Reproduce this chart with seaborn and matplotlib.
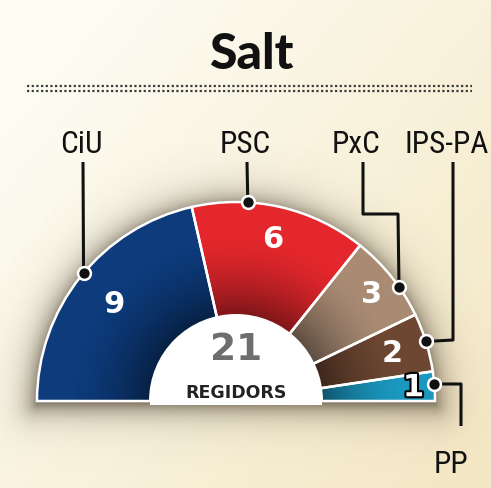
import numpy as np
import matplotlib
matplotlib.use('Agg')
import matplotlib.pyplot as plt
import seaborn as sns
from matplotlib.patches import Wedge
from matplotlib import font_manager
import matplotlib.patheffects as pe

# ---- data ----
parties = ['CiU', 'PSC', 'PxC', 'IPS-PA', 'PP']
seats = [9, 6, 3, 2, 1]
party_colors = ['#0d3b7b', '#e3272c', '#a98b74', '#6d4732', '#1b98c0']
title_text = 'Salt'
center_label = 'REGIDORS'

sns.set_theme(style='white')
plt.rcParams['font.family'] = ['DejaVu Sans']

available = {f.name for f in font_manager.fontManager.ttflist}
label_family, label_size = 'Roboto', 19
for fam in ['Liberation Sans Narrow', 'DejaVu Sans Condensed', 'Roboto Condensed',
            'Open Sans Condensed', 'Noto Sans Condensed']:
    if fam in available:
        label_family, label_size = fam, 22.5
        break
if label_family == 'Roboto' and 'Roboto' not in available:
    label_family, label_size = 'DejaVu Sans', 17

W, H = 491, 489
fig = plt.figure(figsize=(W / 100, H / 100), dpi=100)
ax = fig.add_axes([0, 0, 1, 1])


def Y(py):
    return H - py


CX, CY = 236, 402   # centre of the hemicycle (pixel coords, y down)
R, R_IN = 199, 86

# ---- background gradient ----
xx, yy = np.meshgrid(np.linspace(0, 1, W), np.linspace(0, 1, H))
c_tl = np.array([253, 252, 242]) / 255
c_br = np.array([243, 229, 192]) / 255
t = np.clip(0.6 * xx + 0.5 * yy - 0.15, 0, 1)[..., None]
bg = c_tl * (1 - t) + c_br * t
ax.imshow(bg, extent=[0, W, 0, H], origin='upper', zorder=0, interpolation='bilinear')

# ---- soft shadow around the hemicycle ----
px, py = np.meshgrid(np.arange(W) + 0.5, np.arange(H) + 0.5)
dx = px - CX
dy = py - (CY + 3)
r = np.hypot(dx, dy)
d_above = np.maximum(r - R, 0)
d_below = np.where(np.abs(dx) <= R, dy, np.hypot(np.maximum(np.abs(dx) - R, 0), dy))
d = np.where(dy < 0, d_above, d_below)
alpha = 0.62 * np.exp(-d / 13)
shadow = np.zeros((H, W, 4))
shadow[..., :3] = np.array([75, 65, 48]) / 255
shadow[..., 3] = alpha
ax.imshow(shadow, extent=[0, W, 0, H], origin='upper', zorder=1, interpolation='bilinear')

# ---- hemicycle via pie ----
vals = seats + [sum(seats)]
wedges, _ = ax.pie(vals, colors=party_colors + ['none'], startangle=180,
                   counterclock=False, center=(CX, Y(CY)), radius=R, frame=True,
                   wedgeprops=dict(edgecolor='none', linewidth=0))
wedges[-1].set_visible(False)
for w in wedges[:-1]:
    w.set_zorder(2)

# inner darkening
rr = np.hypot(px - CX, py - CY)
va = 0.45 * np.clip(1 - (rr - R_IN) / 80, 0, 1) ** 1.6
vig = np.zeros((H, W, 4))
vig[..., 3] = va
im = ax.imshow(vig, extent=[0, W, 0, H], origin='upper', zorder=3, interpolation='bilinear')
clipw = Wedge((CX, Y(CY)), R, 0, 180, transform=ax.transData)
im.set_clip_path(clipw)

# white outlines
for w in wedges[:-1]:
    ax.add_patch(Wedge(w.center, w.r, w.theta1, w.theta2, facecolor='none',
                       edgecolor='white', linewidth=1.8, zorder=4))

# white centre
ax.add_patch(Wedge((CX, Y(CY) - 4), R_IN, 0, 180, facecolor='white', edgecolor='none', zorder=5))
ax.add_patch(Wedge((CX, Y(CY)), R_IN + 1, 0, 180, facecolor='white', edgecolor='none', zorder=5))

ax.text(CX, Y(350), str(sum(seats)), ha='center', va='center', fontsize=27,
        fontweight='heavy', color='#6e6e6e', zorder=6)
ax.text(CX, Y(393.5), center_label, ha='center', va='center', fontsize=12.5,
        fontweight='bold', color='#222222', zorder=6)

# ---- seat numbers inside wedges ----
num_r = [156, 167, 173, 163, 178]
for w, n, rad in zip(wedges[:-1], seats, num_r):
    ang = np.deg2rad((w.theta1 + w.theta2) / 2)
    tx = CX + rad * np.cos(ang)
    ty = CY - rad * np.sin(ang)
    kw = {}
    if n == 1:
        kw['path_effects'] = [pe.withStroke(linewidth=3, foreground='black')]
    ax.text(tx, Y(ty), str(n), ha='center', va='center', fontsize=22,
            fontweight='bold', color='white', zorder=6, **kw)

# ---- title & dotted rule ----
ax.text(251, Y(69), title_text, ha='center', va='baseline', fontsize=36,
        fontweight='black', color='#111111', family=['Lato', 'DejaVu Sans'], zorder=6)
for yr in (87, 92):
    ax.plot([27, 472], [Y(yr), Y(yr)], color='#3a3a3a', lw=1.6,
            linestyle=(0, (1, 1.1)), solid_capstyle='butt', zorder=6)

# ---- labels & leaders ----
label_pos = [(81, 153), (245, 153), (356, 153), (447, 153), (451, 473)]
dot_ang = [140, 86.6, 35, 17.4, 4.9]
leaders = [
    [(83, 163), None],
    [(247, 163), None],
    [(363, 163), (363, 215), (398, 215), None],
    [(453, 163), (453, 341), None],
    [None, (461, 385), (461, 427)],
]
for name, (lx, ly), ang, path in zip(parties, label_pos, dot_ang, leaders):
    ax.text(lx, Y(ly), name, ha='center', va='baseline', fontsize=label_size,
            color='#111111', family=[label_family, 'DejaVu Sans'], zorder=6)
    a = np.deg2rad(ang)
    dxp = CX + R * np.cos(a)
    dyp = CY - R * np.sin(a)
    pts = [(dxp, dyp) if p is None else p for p in path]
    ax.plot([p[0] for p in pts], [Y(p[1]) for p in pts], color='#111111', lw=2.2,
            solid_joinstyle='round', solid_capstyle='butt', zorder=6)
    ax.scatter([dxp], [Y(dyp)], s=85, color='#111111', edgecolor='white',
               linewidth=1.8, zorder=7)

ax.set_xlim(0, W)
ax.set_ylim(0, H)
ax.set_aspect('equal')
ax.axis('off')
fig.savefig('out.png', dpi=100)
